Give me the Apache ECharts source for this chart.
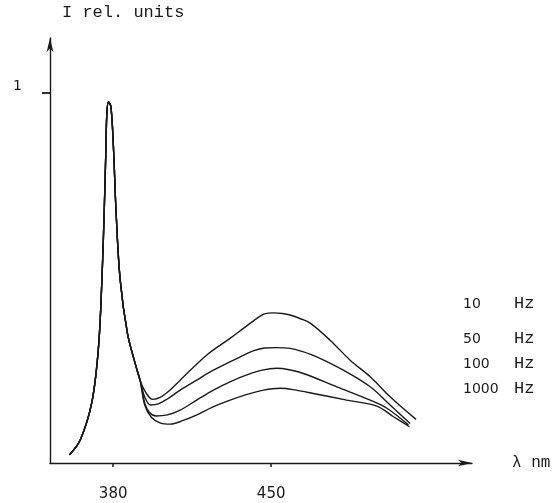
<!DOCTYPE html>
<html>
<head>
<meta charset="utf-8">
<script src="https://cdn.jsdelivr.net/npm/echarts@6/dist/echarts.min.js"></script>
<style>
  html, body { margin: 0; padding: 0; background: #fff; }
  #chart { width: 560px; height: 503px; }
</style>
</head>
<body>
<div id="chart"></div>
<script>
// wavelength (nm), relative intensity
const sharedPeak = [
  [360.6, 0.022], [365.4, 0.062], [370.6, 0.166], [373.5, 0.314], [375, 0.495],
  [376, 0.676], [376.8, 0.855], [377.2, 0.946], [377.9, 0.976], [379, 0.963],
  [380.1, 0.855], [381.3, 0.676], [383.1, 0.495], [386.3, 0.351], [389.7, 0.27],
  [392, 0.222]
]
const tail10 = [
  [394.5, 0.19], [397.5, 0.172], [401, 0.178], [405, 0.196], [409.7, 0.224],
  [421.5, 0.292], [431.8, 0.337], [437.7, 0.364], [443.7, 0.391], [447, 0.403],
  [451, 0.406], [455, 0.404], [458.4, 0.4], [463, 0.39], [467.3, 0.378],
  [476.1, 0.332], [485, 0.278], [493.9, 0.233], [502.7, 0.179], [514.2, 0.118]
]
const tail50 = [
  [394, 0.178], [396.5, 0.157], [400, 0.16], [404, 0.173], [409.7, 0.197],
  [417, 0.224], [424.4, 0.251], [436.3, 0.287], [442, 0.303], [447, 0.311],
  [452, 0.312], [458.4, 0.31], [464, 0.301], [470.2, 0.287], [482, 0.251],
  [493.9, 0.206], [502.7, 0.157], [511.6, 0.107]
]
const tail100 = [
  [394, 0.162], [396, 0.137], [399, 0.127], [404, 0.13], [409.7, 0.143],
  [417, 0.17], [424.4, 0.197], [432, 0.22], [439.2, 0.238], [446, 0.251],
  [452.5, 0.256], [458, 0.252], [464.3, 0.242], [479.1, 0.206], [493.9, 0.17],
  [501.3, 0.148], [510.8, 0.103]
]
const tail1000 = [
  [394, 0.156], [397, 0.123], [401, 0.108], [405.3, 0.105], [411, 0.115],
  [417.1, 0.13], [424, 0.151], [431.8, 0.17], [439, 0.185], [446.6, 0.197],
  [454, 0.202], [461, 0.197], [468.7, 0.188], [483.5, 0.17], [496.8, 0.154],
  [504.2, 0.125], [511.3, 0.098]
]
const freqNames = ['10', '50', '100', '1000']
const xTicks = [380, 450]
const yTicks = [1]

const tails = [tail10, tail50, tail100, tail1000]
const legendY = [305, 340, 365, 390]
const ink = '#1a1a1a'

const chart = echarts.init(document.getElementById('chart'))
chart.setOption({
  animation: false,
  grid: { left: 50, right: 88, top: 38, bottom: 40 },
  xAxis: {
    type: 'value',
    min: 352,
    max: 539,
    name: 'λ nm',
    nameLocation: 'end',
    nameGap: 40,
    nameTextStyle: { fontFamily: 'Liberation Mono', fontSize: 16, color: ink },
    splitLine: { show: false },
    axisLine: { lineStyle: { color: ink, width: 1.4 }, symbol: ['none', 'arrow'], symbolSize: [5, 14] },
    axisTick: { length: 4, customValues: xTicks, lineStyle: { color: ink, width: 1.5 } },
    axisLabel: { customValues: xTicks, margin: 24, fontFamily: 'DejaVu Sans', fontSize: 15, color: ink }
  },
  yAxis: {
    type: 'value',
    min: 0,
    max: 1.149,
    name: 'I rel. units',
    nameLocation: 'end',
    nameGap: 17,
    nameTextStyle: { align: 'left', padding: [0, 0, 0, 12], fontFamily: 'Liberation Mono', fontSize: 17, color: ink },
    splitLine: { show: false },
    axisLine: { lineStyle: { color: ink, width: 1.4 }, symbol: ['none', 'arrow'], symbolSize: [5, 14] },
    axisTick: { length: 8, customValues: yTicks, lineStyle: { color: ink, width: 1.8 } },
    axisLabel: { customValues: yTicks, margin: 28, fontFamily: 'DejaVu Sans', fontSize: 14, color: ink, verticalAlign: 'bottom' }
  },
  series: tails.map((tail, i) => ({
    name: freqNames[i] + ' Hz',
    type: 'line',
    smooth: 0.35,
    showSymbol: false,
    lineStyle: { color: ink, width: 1.4 },
    data: sharedPeak.concat(tail)
  })),
  graphic: freqNames.flatMap((f, i) => [
    { type: 'text', left: 463, top: legendY[i] - 8, style: { text: f, font: '14px "DejaVu Sans"', fill: ink } },
    { type: 'text', left: 514, top: legendY[i] - 10, style: { text: 'Hz', font: '17px "Liberation Mono"', fill: ink } }
  ])
})
</script>
</body>
</html>
